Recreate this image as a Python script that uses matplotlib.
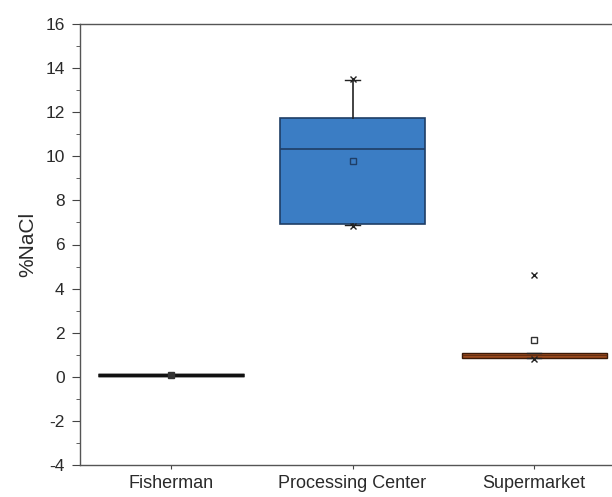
import matplotlib
matplotlib.use("Agg")
import matplotlib.pyplot as plt
from matplotlib.ticker import MultipleLocator

plt.rcParams['font.family'] = ['Liberation Sans', 'DejaVu Sans']
plt.rcParams['axes.unicode_minus'] = False

categories = ["Fisherman", "Processing Center", "Supermarket"]
q1 = [0.08, 6.95, 0.85]
med = [0.08, 10.35, 1.0]
q3 = [0.08, 11.75, 1.1]
whislo = [0.08, 6.9, 0.85]
whishi = [0.08, 13.45, 1.1]
means = [0.08, 9.8, 1.65]
mins = [0.08, 6.85, 0.8]
maxs = [0.08, 13.5, 4.6]

face_colors = ["#111111", "#3b7dc4", "#9a4a1e"]
edge_colors = ["#111111", "#1f3e66", "#3a1a08"]

fig = plt.figure(figsize=(6.12, 4.97), dpi=100)
ax = fig.add_axes([80/612, 1 - 465/497, (625-80)/612, (465-24)/497])

stats = []
for i, c in enumerate(categories):
    stats.append(dict(label=c, q1=q1[i], med=med[i], q3=q3[i],
                      whislo=whislo[i], whishi=whishi[i], mean=means[i], fliers=[]))

pos = [1, 2, 3]
bp = ax.bxp(stats, positions=pos, widths=0.8, patch_artist=True, showmeans=False,
            showcaps=True, manage_ticks=False,
            whiskerprops=dict(color="#222222", lw=1.2),
            capprops=dict(color="#222222", lw=1.0),
            medianprops=dict(color="#1f3e66", lw=1.2))
box_lw = [2.5, 1.2, 1.0]
for i, b in enumerate(bp['boxes']):
    b.set_facecolor(face_colors[i])
    b.set_edgecolor(edge_colors[i])
    b.set_linewidth(box_lw[i])
for i, m in enumerate(bp['medians']):
    if i == 0:
        m.set_color("#111111"); m.set_linewidth(2.5)
    elif i == 2:
        m.set_color("#5a2a10"); m.set_linewidth(0.6)
for cap in bp['caps']:
    x = cap.get_xdata()
    cx = (x[0] + x[1]) / 2
    cap.set_xdata([cx - 0.04, cx + 0.04])
bp['caps'][0].set_visible(False)
bp['caps'][1].set_visible(False)

# min / max markers
for i, p in enumerate(pos):
    if i == 0:
        continue
    ax.plot([p, p], [mins[i], maxs[i]], ls="none", marker="x", ms=4.5,
            mec="#222222", mew=1.0, zorder=5)
# mean markers
for i, p in enumerate(pos):
    ax.plot(p, means[i], ls="none", marker="s", ms=4.5,
            mfc="none" if i == 2 else face_colors[i] if i == 1 else "#333333",
            mec="#1f3e66" if i == 1 else "#333333", mew=1.0, zorder=6)

ax.set_xlim(0.5, 3.5)
ax.set_ylim(-4, 16)
ax.set_xticks(pos)
ax.set_xticklabels(categories, fontsize=13, color="#2a2a2a")
ax.yaxis.set_major_locator(MultipleLocator(2))
ax.yaxis.set_minor_locator(MultipleLocator(1))
ax.tick_params(axis='y', which='major', direction='out', length=6, labelsize=12.5,
               colors="#444444", labelcolor="#2a2a2a", pad=5)
ax.tick_params(axis='y', which='minor', direction='out', length=3, colors="#444444")
ax.tick_params(axis='x', direction='out', length=3, colors="#444444", labelcolor="#2a2a2a", pad=4)
ax.set_ylabel("%NaCl", fontsize=15, color="#2a2a2a", labelpad=6)
ax.spines['right'].set_visible(False)
for s in ['left', 'bottom', 'top']:
    ax.spines[s].set_color("#555555")
    ax.spines[s].set_linewidth(1.0)

fig.savefig("out.png", dpi=100)
